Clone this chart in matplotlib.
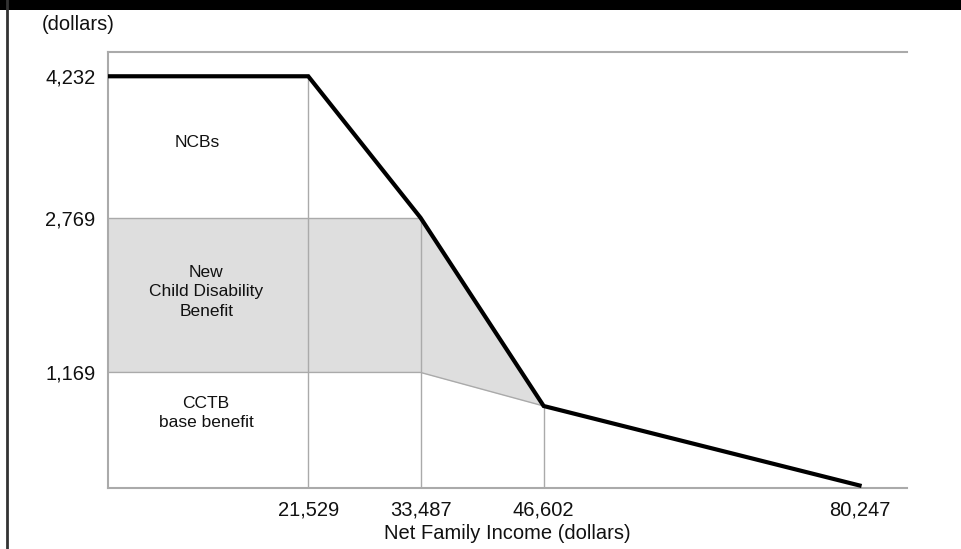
import matplotlib
matplotlib.use("Agg")
import matplotlib.pyplot as plt
from matplotlib.patches import Rectangle
from matplotlib.lines import Line2D

plt.rcParams['font.family'] = ['Liberation Sans', 'DejaVu Sans']

# benefit schedule (dollars)
income = [0, 21529, 33487, 46602, 80247]
total_benefit = [4232, 4232, 2769, 822, 0]

cctb_income = [0, 33487, 46602]
cctb_base = [1169, 1169, 822]
cdb_top = [2769, 2769, 822]

y_ticks = [1169, 2769, 4232]
y_tick_labels = ["1,169", "2,769", "4,232"]
x_ticks = [21529, 33487, 46602, 80247]
x_tick_labels = ["21,529", "33,487", "46,602", "80,247"]

region_labels = ["NCBs", "New\nChild Disability\nBenefit", "CCTB\nbase benefit"]
region_pos = [(9700, 3542), (10660, 2001), (10640, 750)]

W, H = 961, 549
fig = plt.figure(figsize=(W / 100, H / 100), dpi=100)
ax = fig.add_axes([108 / W, 1 - 488 / H, (907 - 108) / W, (488 - 52) / H])

grey = "#aaaaaa"

# shaded disability benefit region
ax.fill_between(cctb_income, cctb_base, cdb_top, color="#dedede", lw=0, zorder=1)

# thin guide lines
ax.plot(cctb_income, cctb_base, color=grey, lw=1, zorder=2)
ax.plot([income[0], income[2]], [total_benefit[2], total_benefit[2]], color=grey, lw=1, zorder=2)
for xi, yi in zip(income[1:4], total_benefit[1:4]):
    ax.plot([xi, xi], [0 - 30, yi], color=grey, lw=1, zorder=2)

# total benefit line
ax.plot(income, total_benefit, color="black", lw=3, solid_joinstyle="miter", zorder=3)

ax.set_xlim(200, 85300)
ax.set_ylim(-26, 4483)

ax.set_yticks(y_ticks)
ax.set_yticklabels(y_tick_labels, fontsize=14.5)
ax.set_xticks(x_ticks)
ax.set_xticklabels(x_tick_labels, fontsize=14.5)
ax.tick_params(axis="both", length=0, colors="#111111")
ax.tick_params(axis="y", pad=9)
ax.tick_params(axis="x", pad=9)
ax.set_xlabel("Net Family Income (dollars)", fontsize=14.5, labelpad=3, color="#111111")

for s in ["left", "bottom", "top"]:
    ax.spines[s].set_color(grey)
    ax.spines[s].set_linewidth(1.5)
ax.spines["right"].set_visible(False)

for txt, (tx, ty) in zip(region_labels, region_pos):
    ax.text(tx, ty, txt, ha="center", va="center", fontsize=12.5, color="#111111",
            linespacing=1.4)

fig.text(42 / W, 1 - 25 / H, "(dollars)", ha="left", va="center", fontsize=14.5, color="#111111")

# frame decorations: black top band and left border
fig.patches.append(Rectangle((0, 1 - 10 / H), 1, 10 / H, transform=fig.transFigure,
                             facecolor="black", edgecolor="none"))
fig.lines.append(Line2D([7 / W, 7 / W], [0, 1], transform=fig.transFigure,
                        color="#333333", lw=2))

fig.savefig("out.png", dpi=100)
